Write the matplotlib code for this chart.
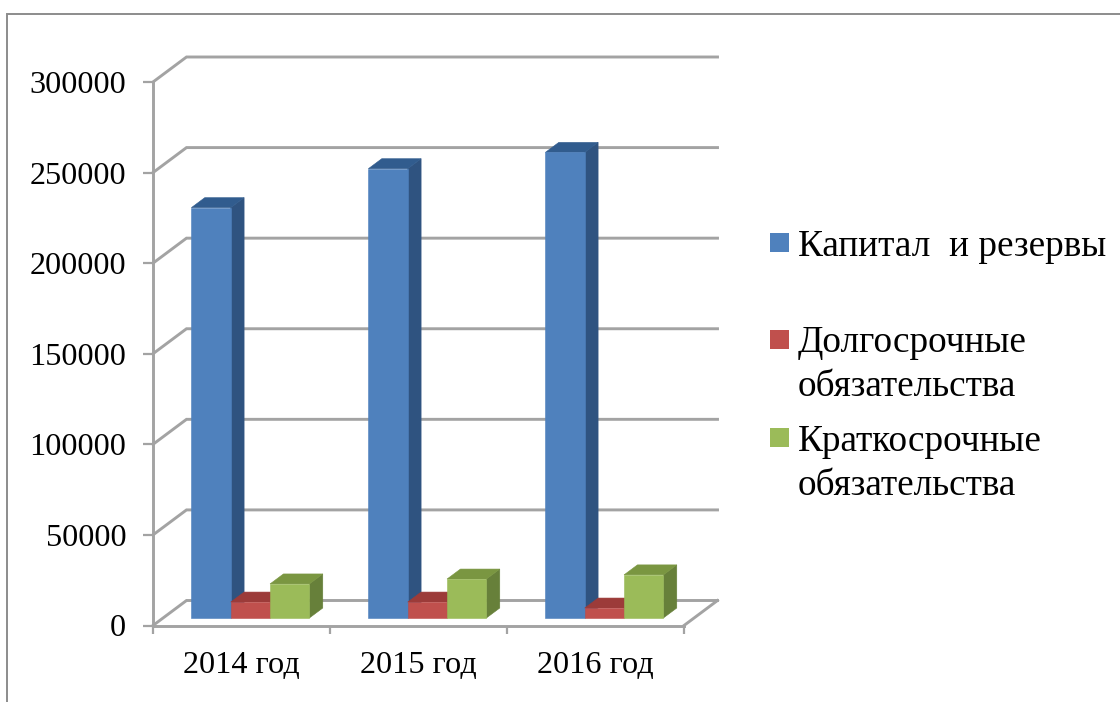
import matplotlib
matplotlib.use("Agg")
import matplotlib.pyplot as plt
from matplotlib.lines import Line2D
from matplotlib.patches import Polygon, Rectangle

plt.rcParams['font.family'] = ['Liberation Serif', 'DejaVu Serif']

categories = ['2014 год', '2015 год', '2016 год']
capital = [226500, 248000, 257000]
long_term = [8800, 8800, 5500]
short_term = [18800, 21500, 23800]
y_ticks = [0, 50000, 100000, 150000, 200000, 250000, 300000]

series = [capital, long_term, short_term]
face_colors = ['#4f81bd', '#c0504d', '#9bbb59']
side_colors = ['#2f5380', '#8f3a38', '#67803a']
top_colors = ['#315c8e', '#9c3b39', '#7a9641']
legend_labels = ['Капитал  и резервы', 'Долгосрочные\nобязательства', 'Краткосрочные\nобязательства']

W, H = 1120, 702
GRID = '#a3a3a3'
fig = plt.figure(figsize=(W / 100, H / 100), dpi=100, facecolor='white')
X0, X1, YT, YB = 153, 684, 82, 625.5
ax = fig.add_axes([X0 / W, 1 - YB / H, (X1 - X0) / W, (YB - YT) / H])
ax.set_xlim(0, len(categories))
ax.set_ylim(0, y_ticks[-1])
ax.patch.set_visible(False)

# Pseudo-3D projection: depth d in 0..1 shifts a point by a fixed amount in data units
cat_px = (X1 - X0) / len(categories)
val_px = y_ticks[-1] / (YB - YT)
DX = 33.5 / cat_px
DY = 25 * val_px


def P(x, y, d=0.0):
    return (x + DX * d, y + DY * d)


# Walls
n = len(categories)
for v in y_ticks:
    ax.add_line(Line2D(*zip(P(0, v), P(0, v, 1), P(n, v, 1)), color=GRID, lw=2.1,
                       clip_on=False, zorder=1, solid_joinstyle='miter'))
ax.add_line(Line2D(*zip(P(n, 0), P(n, 0, 1)), color=GRID, lw=2.1, clip_on=False, zorder=1))

# Bars
BAR_W = 1 / 4.5
GAP = 0.72 * BAR_W
D0, D1 = 0.30, 0.70
for i in range(n):
    for j, vals in enumerate(series):
        l = i + GAP + j * BAR_W
        r = l + BAR_W
        v = vals[i]
        kw = dict(clip_on=False, zorder=3, lw=0.4)
        ax.add_patch(Polygon([P(r, 0, D0), P(r, 0, D1), P(r, v, D1), P(r, v, D0)],
                             fc=side_colors[j], ec=side_colors[j], **kw))
        ax.add_patch(Polygon([P(l, v, D0), P(r, v, D0), P(r, v, D1), P(l, v, D1)],
                             fc=top_colors[j], ec=top_colors[j], **kw))
        ax.add_patch(Polygon([P(l, 0, D0), P(r, 0, D0), P(r, v, D0), P(l, v, D0)],
                             fc=face_colors[j], ec=face_colors[j], **kw))

# Axes
for s in ['top', 'right']:
    ax.spines[s].set_visible(False)
for s in ['left', 'bottom']:
    ax.spines[s].set_color(GRID)
    ax.spines[s].set_linewidth(2.1)
ax.set_yticks(y_ticks)
ax.set_yticklabels([str(v) for v in y_ticks])
ax.tick_params(axis='y', length=7.2, width=1.6, color=GRID, labelsize=23.2, pad=12, labelcolor='black')
ax.set_xticks(range(n + 1))
ax.set_xticklabels([''] * (n + 1))
ax.tick_params(axis='x', which='major', length=6, width=1.6, color=GRID)
ax.set_xticks([i + 0.5 for i in range(n)], minor=True)
ax.set_xticklabels(categories, minor=True)
ax.tick_params(axis='x', which='minor', length=0, labelsize=23.2, pad=18.5, labelcolor='black')

# Legend
leg_y = [(233, 247), (330, 365), (428, 464)]
for (sq, ty), c, lab in zip(leg_y, face_colors, legend_labels):
    fig.add_artist(Rectangle((770 / W, 1 - (sq + 19) / H), 19 / W, 19 / H, fc=c, ec='none',
                             transform=fig.transFigure))
    fig.text(798 / W, 1 - ty / H, lab, fontsize=26.8, va='center', ha='left', color='black',
             linespacing=1.36)

# Outer frame
FRAME = '#8c8c8c'
fig.add_artist(Line2D([7 / W, 7 / W, 1], [0, 1 - 14 / H, 1 - 14 / H], color=FRAME, lw=1.4,
                      transform=fig.transFigure, solid_joinstyle='miter'))

fig.savefig('out.png', dpi=100, facecolor='white')
